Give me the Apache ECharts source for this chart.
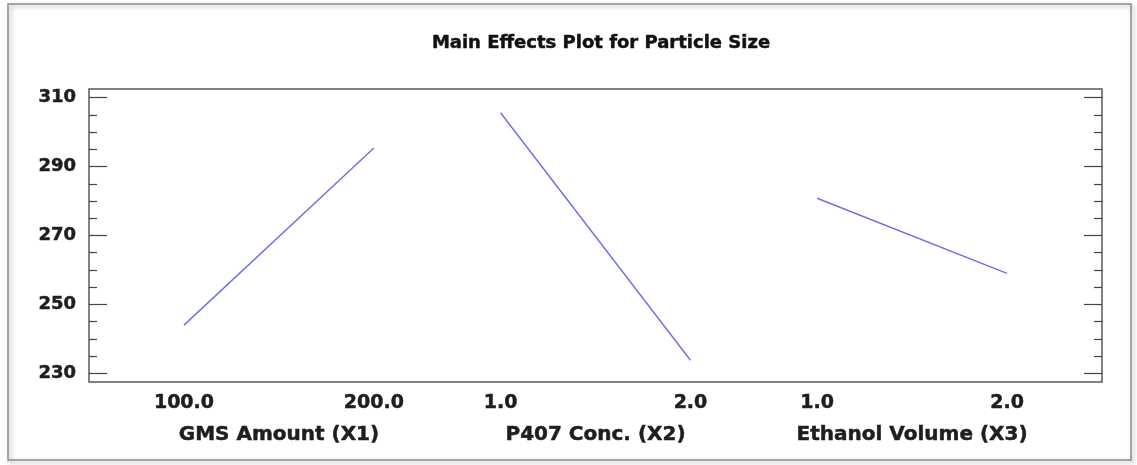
<!DOCTYPE html>
<html>
<head>
<meta charset="utf-8">
<script src="https://cdn.jsdelivr.net/npm/echarts@6/dist/echarts.min.js"></script>
<style>
  html, body { margin: 0; padding: 0; background: #ffffff; }
  #chart { width: 1137px; height: 465px; }
</style>
</head>
<body>
<div id="chart"></div>
<script>
// Main effects of the three formulation factors on particle size
const factorNames = ['GMS Amount (X1)', 'P407 Conc. (X2)', 'Ethanol Volume (X3)'];
const lowLevels = ['100.0', '1.0', '1.0'];
const highLevels = ['200.0', '2.0', '2.0'];
const lowMeans = [244.0, 305.6, 280.8];
const highMeans = [295.4, 233.8, 259.0];
const yTickLabels = [230, 250, 270, 290, 310];
const yMinorStep = 5;

// Each factor gets one unit of x for its low→high span; factors are separated by a gap.
const GAP = 2 / 3;
const STEP = 1 + GAP;
const X_PAD = 0.5;
const xMin = -X_PAD;
const xMax = (factorNames.length - 1) * STEP + 1 + X_PAD;
const yMin = 227.5;
const yMax = 312.5;

const levelPositions = [];
const levelText = {};
factorNames.forEach((_, i) => {
  const lo = +(i * STEP).toFixed(6);
  const hi = +(i * STEP + 1).toFixed(6);
  levelPositions.push(lo, hi);
  levelText[lo] = lowLevels[i];
  levelText[hi] = highLevels[i];
});
const factorCenters = factorNames.map((_, i) => +(i * STEP + 0.5).toFixed(6));
const centerText = {};
factorCenters.forEach((c, i) => { centerText[c] = factorNames[i]; });

const minorTicks = [];
for (let v = Math.ceil(yMin / yMinorStep) * yMinorStep; v <= yMax; v += yMinorStep) {
  if (yTickLabels.indexOf(v) < 0) minorTicks.push(v);
}

function nearestKey(map, value) {
  let best = null, bestD = Infinity;
  Object.keys(map).forEach(k => {
    const d = Math.abs(+k - value);
    if (d < bestD) { bestD = d; best = k; }
  });
  return map[best];
}

const FONT = 'DejaVu Sans';
const tickColor = '#444';
const heavy = { textBorderColor: '#1e1e1e', textBorderWidth: 0.5 };

const series = factorNames.map((name, i) => ({
  name: name,
  type: 'line',
  xAxisIndex: 0,
  yAxisIndex: 0,
  symbol: 'none',
  silent: true,
  lineStyle: { color: '#6f6fe2', width: 1.4 },
  data: [[i * STEP, lowMeans[i]], [i * STEP + 1, highMeans[i]]]
}));

function yAxis(position, ticks, len, labels) {
  return {
    type: 'value',
    position: position,
    min: yMin,
    max: yMax,
    axisLine: { show: false, onZero: false },
    splitLine: { show: false },
    axisTick: {
      show: true,
      inside: true,
      length: len,
      customValues: ticks,
      lineStyle: { color: tickColor, width: 1.2 }
    },
    axisLabel: labels ? Object.assign({
      show: true,
      customValues: yTickLabels,
      margin: 13,
      fontFamily: FONT,
      fontWeight: 'bold',
      fontSize: 18,
      color: '#1e1e1e'
    }, heavy) : { show: false }
  };
}

const chart = echarts.init(document.getElementById('chart'));
chart.setOption({
  animation: false,
  backgroundColor: '#ffffff',
  title: {
    text: 'Main Effects Plot for Particle Size',
    left: 596,
    top: 29,
    textAlign: 'center',
    textStyle: Object.assign({ fontFamily: FONT, fontWeight: 'bold', fontSize: 18, color: '#111' }, heavy)
  },
  graphic: [{
    type: 'rect',
    shape: { x: 8, y: 4, width: 1123, height: 456 },
    style: {
      fill: 'none',
      stroke: '#8c8c8c',
      lineWidth: 1.5,
      shadowBlur: 4,
      shadowColor: 'rgba(0,0,0,0.35)',
      shadowOffsetX: 2,
      shadowOffsetY: 2
    },
    silent: true,
    z: -1
  }],
  grid: {
    left: 89,
    right: 35,
    top: 89,
    bottom: 83,
    show: true,
    borderColor: '#5a5a5a',
    borderWidth: 1.5,
    backgroundColor: '#ffffff'
  },
  xAxis: [{
    type: 'value',
    position: 'bottom',
    min: xMin,
    max: xMax,
    axisLine: { show: false, onZero: false },
    axisTick: { show: false },
    splitLine: { show: false },
    axisLabel: Object.assign({
      customValues: levelPositions,
      margin: 12,
      formatter: v => nearestKey(levelText, v),
      fontFamily: FONT,
      fontWeight: 'bold',
      fontSize: 19,
      color: '#1e1e1e'
    }, heavy)
  }, {
    type: 'value',
    position: 'bottom',
    min: xMin,
    max: xMax,
    axisLine: { show: false, onZero: false },
    axisTick: { show: false },
    splitLine: { show: false },
    axisLabel: Object.assign({
      customValues: factorCenters,
      margin: 43,
      formatter: v => nearestKey(centerText, v),
      fontFamily: FONT,
      fontWeight: 'bold',
      fontSize: 20,
      color: '#1e1e1e'
    }, heavy)
  }],
  yAxis: [
    yAxis('left', yTickLabels, 18, true),
    yAxis('left', minorTicks, 8, false),
    yAxis('right', yTickLabels, 18, false),
    yAxis('right', minorTicks, 8, false)
  ],
  series: series
});
</script>
</body>
</html>
